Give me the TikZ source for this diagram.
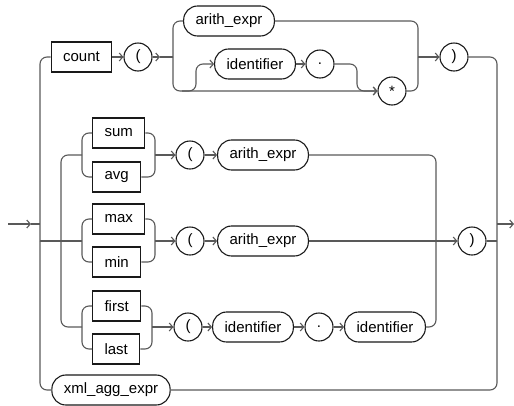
\documentclass[tikz,border=0pt]{standalone}
\usepackage{fontspec}
\setmainfont{Liberation Sans}
\usetikzlibrary{arrows.meta,positioning}

\begin{document}
\begin{tikzpicture}[x=1pt,y=-1pt,>={Straight Barb[length=3.5pt,width=8pt]},line width=1.1pt,
	wire/.style={draw=black!65},
	rc/.style={wire,rounded corners=7pt},
	kw/.style={draw=black!90,rectangle,minimum height=30pt,inner xsep=12pt,inner ysep=0pt,font=\fontsize{15}{17}\selectfont},
	nt/.style={kw,rounded corners=14pt},
	sym/.style={draw=black!90,circle,minimum size=28pt,inner sep=0pt,font=\fontsize{15}{17}\selectfont}]
			\useasboundingbox (0,0) rectangle (514,405);
			\node[kw] (count) at (81.5,57) {count};
			\node[sym] (lpar1) at (138,57) {(};
			\node[nt] (arith1) at (229,21) {arith\_expr};
			\node[nt] (ident1) at (255,64) {identifier};
			\node[sym] (dot1) at (320,64) {.};
			\node[sym] (star) at (392,91) {*};
			\node[sym] (rpar1) at (454,57) {)};
			\node[kw,anchor=west] (sum) at (92,133) {sum};
			\node[kw,anchor=west] (avg) at (92,177) {avg};
			\node[sym] (lpar2) at (190,155) {(};
			\node[nt] (arith2) at (263,155) {arith\_expr};
			\node[kw,anchor=west] (max) at (92,219) {max};
			\node[kw,anchor=west] (min) at (92,262) {min};
			\node[sym] (lpar3) at (190,241) {(};
			\node[nt] (arith3) at (263,241) {arith\_expr};
			\node[sym] (rpar3) at (472,241) {)};
			\node[kw,anchor=west] (first) at (92,306) {first};
			\node[kw,anchor=west] (last) at (92,349) {last};
			\node[sym] (lpar4) at (188,327) {(};
			\node[nt] (ident4) at (253,327) {identifier};
			\node[sym] (dot4) at (319,327) {.};
			\node[nt] (ident5) at (385,327) {identifier};
			\node[nt] (xml) at (111,390) {xml\_agg\_expr};

			\coordinate (in) at (8,224);
			\coordinate (intip) at (31,224);
			\coordinate (lt) at (40,224);
			\coordinate (lm) at (40,241);
			\coordinate (rt) at (497,224);
			\coordinate (rm) at (497,241);
			\coordinate (out) at (514,224);
			\coordinate (c1) at (160,57);
			\coordinate (c2) at (173,57);
			\coordinate (c3) at (182,91);
			\coordinate (c4) at (196,64);
			\coordinate (c5) at (357,91);
			\coordinate (c6) at (418,57);
			\coordinate (j1) at (82,155);
			\coordinate (j2) at (155,155);
			\coordinate (j3) at (82,241);
			\coordinate (j4) at (155,241);
			\coordinate (j5) at (82,327);
			\coordinate (j6) at (152,327);
			\coordinate (j7) at (436,241);
			\coordinate (j8) at (61,241);

			\draw[wire,->] (in) -- (intip);
			\draw[wire] (intip) -- (lt);
			\draw[rc] (count.west) -| (lm);
			\draw[rc] (xml.west) -| (lm);
			\draw[rc] (rpar1.east) -| (rm);
			\draw[rc] (xml.east) -| (rm);
			\draw[wire,->] (rt) -- (out);

			\draw[wire,->] (count) -- (lpar1);
			\draw[wire,->] (lpar1) -- (c1);
			\draw[wire] (c1) -- (c2);
			\draw[rc] (c2) |- (arith1.west);
			\draw[rc,->] (c2) |- (star.west);
			\draw[rc,->] (c3) -| (c4) -- (ident1.west);
			\draw[wire,->] (ident1) -- (dot1);
			\draw[rc,->] (dot1.east) -| (c5) -- (star.west);
			\draw[rc] (arith1.east) -| (c6);
			\draw[rc] (star.east) -| (c6);
			\draw[wire,->] (c6) -- (rpar1);

			\draw[rc] (j1) -| (j8) |- (j5);
			\draw[rc] (sum.west) -| (j1) |- (avg.west);
			\draw[rc] (sum.east) -| (j2) |- (avg.east);
			\draw[wire,->] (j2) -- (lpar2);
			\draw[wire,->] (lpar2) -- (arith2);
			\draw[rc] (arith2.east) -| (j7);

			\draw[wire] (lm) -- (j3);
			\draw[rc] (max.west) -| (j3) |- (min.west);
			\draw[rc] (max.east) -| (j4) |- (min.east);
			\draw[wire,->] (j4) -- (lpar3);
			\draw[wire,->] (lpar3) -- (arith3);
			\draw[wire,->] (arith3) -- (rpar3);
			\draw[wire] (rpar3) -- (rm);

			\draw[rc] (first.west) -| (j5) |- (last.west);
			\draw[rc] (first.east) -| (j6) |- (last.east);
			\draw[wire,->] (j6) -- (lpar4);
			\draw[wire,->] (lpar4) -- (ident4);
			\draw[wire,->] (ident4) -- (dot4);
			\draw[wire,->] (dot4) -- (ident5);
			\draw[rc] (ident5.east) -| (j7);
\end{tikzpicture}
\end{document}
